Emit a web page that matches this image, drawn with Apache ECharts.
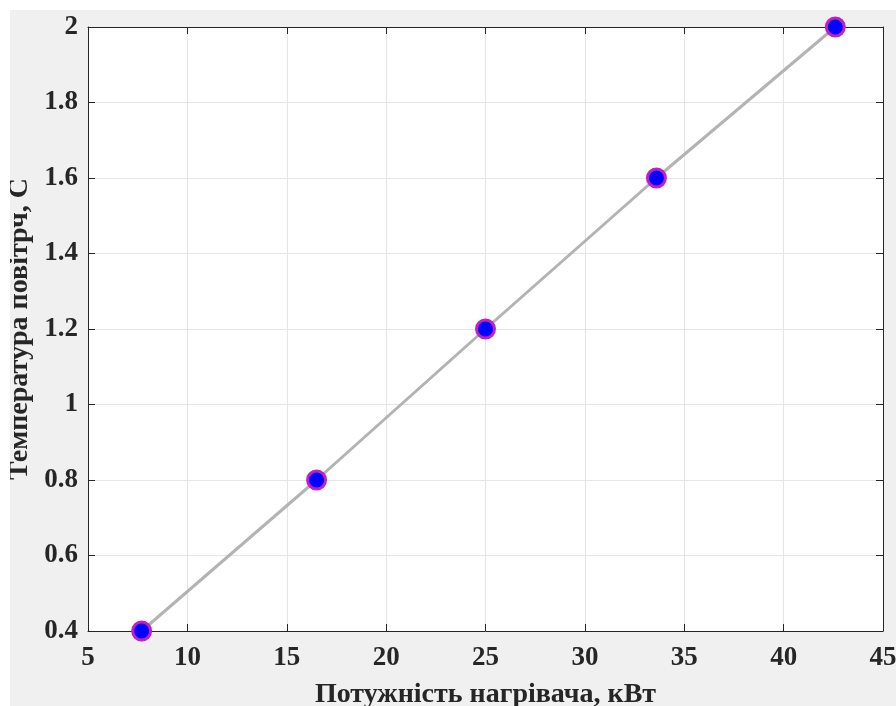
<!DOCTYPE html>
<html><head><meta charset="utf-8">
<script src="https://cdn.jsdelivr.net/npm/echarts@6/dist/echarts.min.js"></script>
<style>html,body{margin:0;padding:0;background:#fff;}#c{position:absolute;left:10px;top:10px;width:886px;height:696px;}</style>
</head><body><div id="c"></div>
<script>
const xValues = [7.7, 16.5, 25, 33.6, 42.6];
const yValues = [0.4, 0.8, 1.2, 1.6, 2.0];
const xName = 'Потужність нагрівача, кВт';
const yName = 'Температура повітрч, С';
const font = 'Liberation Serif';
const axisColor = '#262626';
const chart = echarts.init(document.getElementById('c'));
const common = {
  axisLine: {show: true, lineStyle: {color: axisColor, width: 1}},
  axisTick: {show: true, inside: true, length: 7, lineStyle: {color: axisColor}},
};
chart.setOption({
  backgroundColor: '#f0f0f0',
  animation: false,
  grid: {left: 78, top: 17, width: 795, height: 604, backgroundColor: '#fff', show: true, borderWidth: 0,
    containLabel: false, outerBoundsMode: 'none'},
  xAxis: [{
    type: 'value', min: 5, max: 45, interval: 5,
    name: xName, nameLocation: 'middle', nameGap: 50,
    nameTextStyle: {fontFamily: font, fontWeight: 'bold', fontSize: 28, color: axisColor},
    axisLabel: {fontFamily: font, fontWeight: 'bold', fontSize: 27, color: axisColor, margin: 14},
    splitLine: {show: true, lineStyle: {color: '#e5e5e5'}},
    ...common
  }, {
    type: 'value', position: 'top', min: 5, max: 45, interval: 5,
    axisLabel: {show: false}, splitLine: {show: false}, ...common
  }],
  yAxis: [{
    type: 'value', min: 0.4, max: 2, interval: 0.2,
    name: yName, nameLocation: 'middle', nameGap: 51,
    nameTextStyle: {fontFamily: font, fontWeight: 'bold', fontSize: 28, color: axisColor},
    axisLabel: {fontFamily: font, fontWeight: 'bold', fontSize: 27, color: axisColor, margin: 10,
      formatter: v => String(+v.toFixed(1))},
    splitLine: {show: true, lineStyle: {color: '#e5e5e5'}},
    ...common
  }, {
    type: 'value', position: 'right', min: 0.4, max: 2, interval: 0.2,
    axisLabel: {show: false}, splitLine: {show: false}, ...common
  }],
  series: [{
    type: 'line',
    data: xValues.map((x, i) => [x, yValues[i]]),
    lineStyle: {color: '#b3b3b3', width: 3},
    symbol: 'circle', symbolSize: 18,
    itemStyle: {color: '#0000ff', borderColor: '#c020c0', borderWidth: 3},
    z: 5
  }]
});
</script></body></html>
